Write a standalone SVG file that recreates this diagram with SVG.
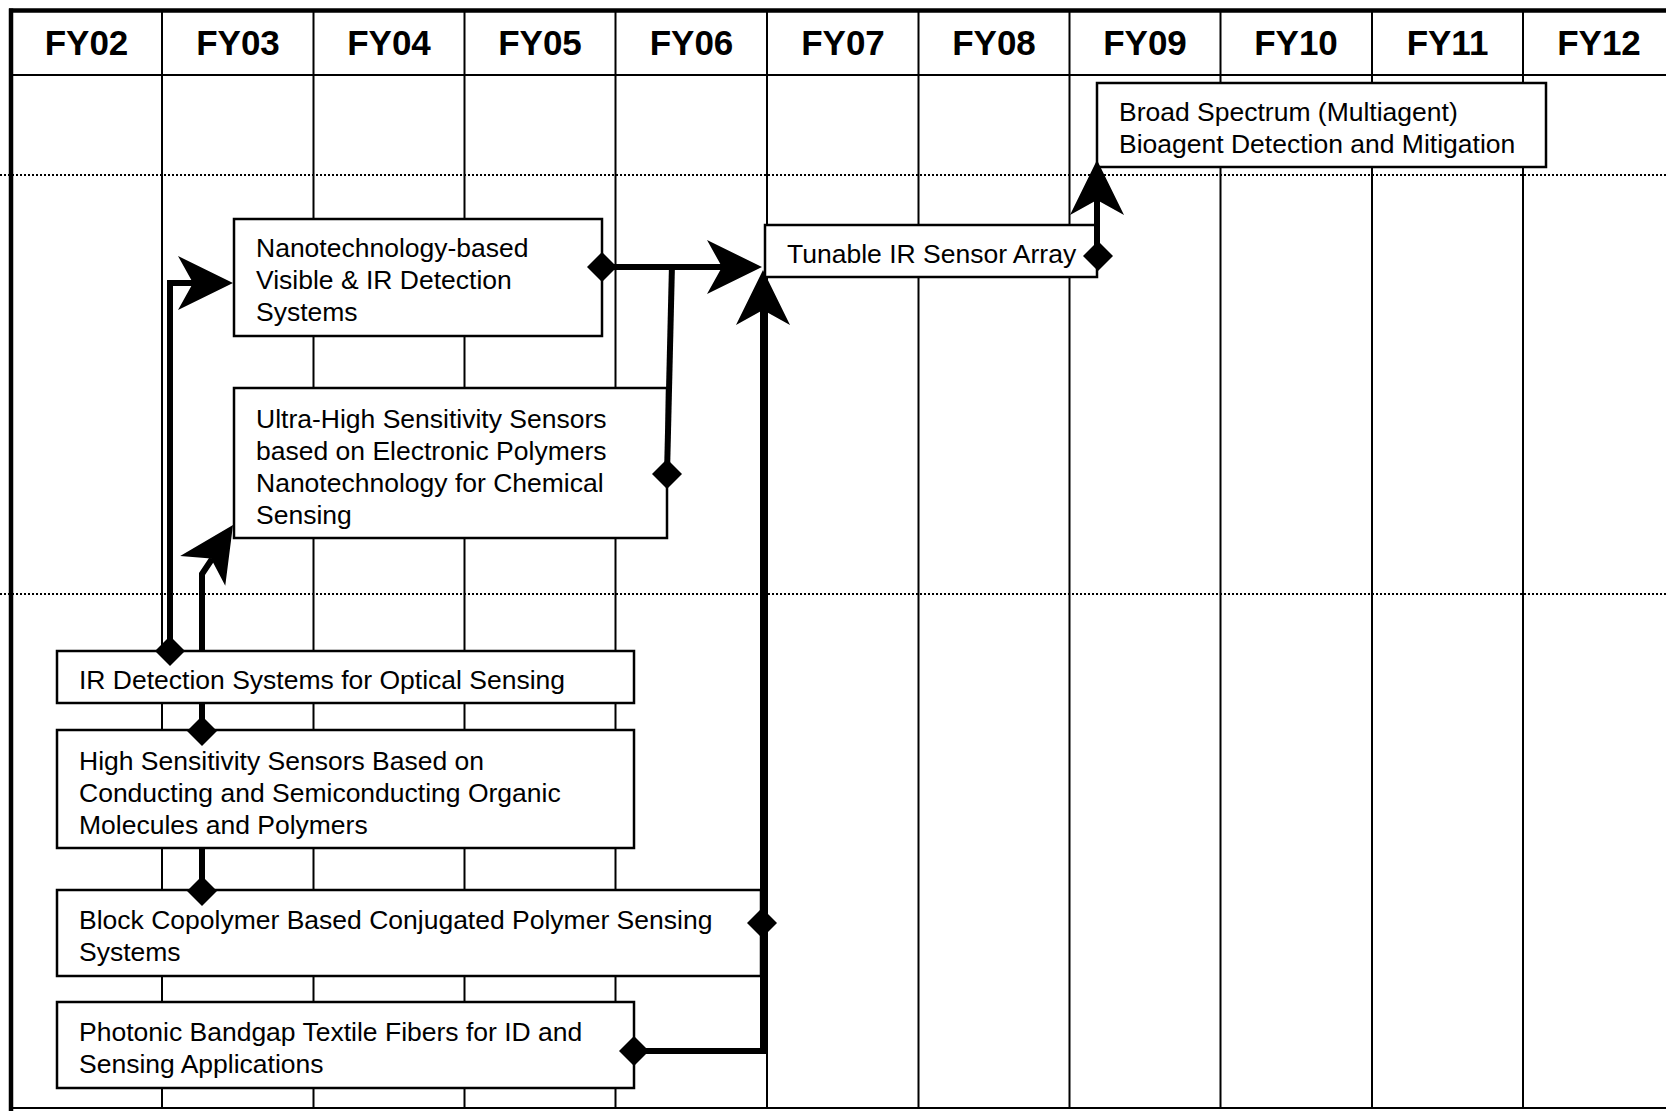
<svg xmlns="http://www.w3.org/2000/svg" width="1666" height="1111" viewBox="0 0 1666 1111">
<style>
.bg{fill:#fff}
.grid{stroke:#000;stroke-width:2;fill:none}
.frame{stroke:#000;stroke-width:4.5;fill:none}
.dot{stroke:#000;stroke-width:2;stroke-dasharray:2 2;fill:none}
.box{fill:#fff;stroke:#000;stroke-width:2.5}
.t{font-family:"Liberation Sans",Arial,sans-serif;font-size:26.5px;fill:#000}
.h{font-family:"Liberation Sans",Arial,sans-serif;font-size:35px;font-weight:bold;text-anchor:middle;fill:#000}
.conn{stroke:#000;stroke-width:6;fill:none;stroke-linejoin:miter;stroke-linecap:butt}
.blk{fill:#000}
</style>
<defs>
<path id="dia" d="M-15 0 L0 -15 L15 0 L0 15 Z"/>
<path id="ah" d="M0 0 L-55 -27 L-40 0 L-55 27 Z"/>
</defs>
<rect class="bg" x="0" y="0" width="1666" height="1111"/>
<g id="grid">
<line class="frame" x1="9" y1="10.5" x2="1666" y2="10.5"/>
<line class="frame" x1="11" y1="8.5" x2="11" y2="1111"/>
<line class="grid" x1="11" y1="75" x2="1666" y2="75"/>
<line class="grid" x1="11" y1="1108" x2="1666" y2="1108"/>
<line class="grid" x1="162" y1="10" x2="162" y2="1108"/>
<line class="grid" x1="313.5" y1="10" x2="313.5" y2="1108"/>
<line class="grid" x1="464.5" y1="10" x2="464.5" y2="1108"/>
<line class="grid" x1="615.5" y1="10" x2="615.5" y2="1108"/>
<line class="grid" x1="767" y1="10" x2="767" y2="1108"/>
<line class="grid" x1="918.5" y1="10" x2="918.5" y2="1108"/>
<line class="grid" x1="1069.5" y1="10" x2="1069.5" y2="1108"/>
<line class="grid" x1="1220.5" y1="10" x2="1220.5" y2="1108"/>
<line class="grid" x1="1372" y1="10" x2="1372" y2="1108"/>
<line class="grid" x1="1523" y1="10" x2="1523" y2="1108"/>
<line class="dot" x1="0" y1="175" x2="1666" y2="175"/>
<line class="dot" x1="0" y1="594" x2="1666" y2="594"/>
<text class="h" x="86.5" y="55">FY02</text>
<text class="h" x="238" y="55">FY03</text>
<text class="h" x="389" y="55">FY04</text>
<text class="h" x="540" y="55">FY05</text>
<text class="h" x="691.5" y="55">FY06</text>
<text class="h" x="843" y="55">FY07</text>
<text class="h" x="994" y="55">FY08</text>
<text class="h" x="1145" y="55">FY09</text>
<text class="h" x="1296" y="55">FY10</text>
<text class="h" x="1447.5" y="55">FY11</text>
<text class="h" x="1599" y="55">FY12</text>
</g>
<g id="n-broad">
<rect class="box" x="1097" y="83" width="449" height="84"/>
<text class="t" x="1119" y="121">Broad Spectrum (Multiagent)</text>
<text class="t" x="1119" y="153">Bioagent Detection and Mitigation</text>
</g>
<g id="n-nano">
<rect class="box" x="234" y="219" width="368" height="117"/>
<text class="t" x="256" y="257">Nanotechnology-based</text>
<text class="t" x="256" y="289">Visible &amp; IR Detection</text>
<text class="t" x="256" y="321">Systems</text>
</g>
<g id="n-tunable">
<rect class="box" x="765" y="225" width="332" height="52"/>
<text class="t" x="787" y="263">Tunable IR Sensor Array</text>
</g>
<g id="n-ultra">
<rect class="box" x="234" y="388" width="433" height="150"/>
<text class="t" x="256" y="428">Ultra-High Sensitivity Sensors</text>
<text class="t" x="256" y="460">based on Electronic Polymers</text>
<text class="t" x="256" y="492">Nanotechnology for Chemical</text>
<text class="t" x="256" y="524">Sensing</text>
</g>
<g id="n-ir">
<rect class="box" x="57" y="651" width="577" height="52"/>
<text class="t" x="79" y="689">IR Detection Systems for Optical Sensing</text>
</g>
<g id="n-hs">
<rect class="box" x="57" y="730" width="577" height="118"/>
<text class="t" x="79" y="770">High Sensitivity Sensors Based on</text>
<text class="t" x="79" y="802">Conducting and Semiconducting Organic</text>
<text class="t" x="79" y="834">Molecules and Polymers</text>
</g>
<g id="n-block">
<rect class="box" x="57" y="890" width="704" height="86"/>
<text class="t" x="79" y="929">Block Copolymer Based Conjugated Polymer Sensing</text>
<text class="t" x="79" y="961">Systems</text>
</g>
<g id="n-photonic">
<rect class="box" x="57" y="1002" width="577" height="86"/>
<text class="t" x="79" y="1041">Photonic Bandgap Textile Fibers for ID and</text>
<text class="t" x="79" y="1073">Sensing Applications</text>
</g>
<g id="connectors">
<path class="conn" d="M170 651 V283 H196"/>
<use href="#ah" class="blk" transform="translate(233 283)"/>
<use href="#dia" class="blk" x="170" y="651"/>
<path class="conn" d="M202 731 V703"/>
<path class="conn" d="M202 651 V574 L212 559"/>
<use href="#ah" class="blk" transform="translate(233 525) rotate(-56.6)"/>
<use href="#dia" class="blk" x="202" y="731"/>
<path class="conn" d="M202 890 V848"/>
<use href="#dia" class="blk" x="202" y="891"/>
<path class="conn" d="M602 267 H724"/>
<use href="#ah" class="blk" transform="translate(762 267)"/>
<use href="#dia" class="blk" x="602" y="267"/>
<path class="conn" d="M667 474 L672 264"/>
<use href="#dia" class="blk" x="667" y="474"/>
<path class="conn" d="M634 1051 H763 V308"/>
<use href="#ah" class="blk" transform="translate(763 270) rotate(-90)"/>
<use href="#dia" class="blk" x="762" y="923"/>
<use href="#dia" class="blk" x="634" y="1051"/>
<path class="conn" d="M1097 256 V198"/>
<use href="#ah" class="blk" transform="translate(1097 160) rotate(-90)"/>
<use href="#dia" class="blk" x="1098" y="256"/>
</g>
</svg>
